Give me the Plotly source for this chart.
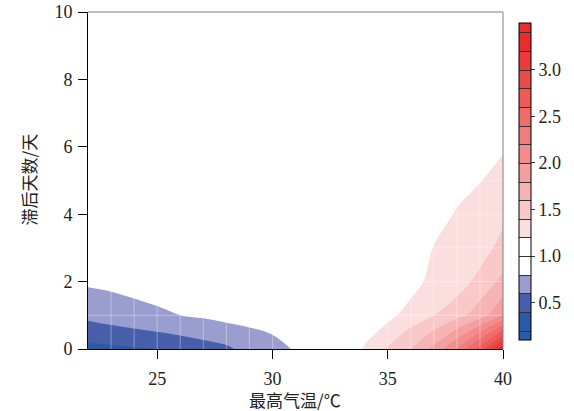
import plotly.graph_objects as go

# Maximum temperature (°C) grid and lag (days) grid
temps = [22, 23, 24, 25, 26, 27, 28, 29, 30, 31, 32, 33, 34, 35, 36, 37, 38, 39, 40]
lags = [0, 1, 2, 3, 4, 5, 6, 7, 8, 9, 10]

# Relative risk, one list per temperature (values for lag 0..10)
rr_by_temp = {
    22: [0.341, 0.649, 0.831, 0.92, 0.96, 0.98, 1.0, 1.0, 1.0, 1.0, 1.0],
    23: [0.356, 0.699, 0.843, 0.93, 0.97, 0.99, 1.0, 1.0, 1.0, 1.0, 1.0],
    24: [0.377, 0.743, 0.857, 0.94, 0.97, 0.99, 1.0, 1.0, 1.0, 1.0, 1.0],
    25: [0.400, 0.792, 0.821, 0.90, 0.96, 0.99, 1.0, 1.0, 1.0, 1.0, 1.0],
    26: [0.467, 0.799, 0.900, 0.95, 0.98, 1.0, 1.0, 1.0, 1.0, 1.0, 1.0],
    27: [0.516, 0.828, 0.920, 0.96, 0.98, 1.0, 1.0, 1.0, 1.0, 1.0, 1.0],
    28: [0.564, 0.867, 0.930, 0.97, 0.99, 1.0, 1.0, 1.0, 1.0, 1.0, 1.0],
    29: [0.670, 0.873, 0.940, 0.97, 0.99, 1.0, 1.0, 1.0, 1.0, 1.0, 1.0],
    30: [0.760, 0.855, 0.940, 0.97, 0.99, 1.0, 1.0, 1.0, 1.0, 1.0, 1.0],
    31: [0.810, 0.900, 0.950, 0.98, 1.0, 1.0, 1.0, 1.0, 1.0, 1.0, 1.0],
    32: [0.920, 0.960, 0.980, 1.0, 1.0, 1.0, 1.0, 1.0, 1.0, 1.0, 1.0],
    33: [1.050, 1.020, 1.0, 1.0, 1.0, 1.0, 1.0, 1.0, 1.0, 1.0, 1.0],
    34: [1.220, 1.070, 1.030, 1.01, 1.0, 1.0, 1.0, 1.0, 1.0, 1.0, 1.0],
    35: [1.420, 1.140, 1.080, 1.05, 1.02, 1.01, 1.0, 1.0, 1.0, 1.0, 1.0],
    36: [1.600, 1.285, 1.114, 1.105, 1.07, 1.04, 1.02, 1.0, 1.0, 1.0, 1.0],
    37: [1.850, 1.400, 1.270, 1.205, 1.15, 1.10, 1.05, 1.02, 1.0, 1.0, 1.0],
    38: [2.210, 1.530, 1.290, 1.250, 1.21, 1.16, 1.10, 1.05, 1.02, 1.0, 1.0],
    39: [2.700, 1.700, 1.470, 1.300, 1.24, 1.195, 1.13, 1.07, 1.03, 1.01, 1.0],
    40: [3.350, 2.000, 1.650, 1.480, 1.34, 1.27, 1.18, 1.10, 1.05, 1.02, 1.0],
}

# Contour levels and band colours (0.2 .. 3.4 in steps of 0.2)
level_start, level_end, level_step = 0.2, 3.4, 0.2
band_colors = [
    "#2b5aa6", "#475fab", "#9a9ecf", "#ffffff", "#ffffff",
    "#fbdfdf", "#f9c8c8", "#f7b4b4", "#f5a0a0", "#f38d8d",
    "#f27c7c", "#f06b6b", "#ee5a5a", "#ec4a4a", "#eb3b3b", "#e92c2c",
]
cbar_ticks = [0.5, 1.0, 1.5, 2.0, 2.5, 3.0]
x_ticks = [25, 30, 35, 40]
y_ticks = [0, 2, 4, 6, 8, 10]

# z matrix: rows = lags, columns = temps
z = [[rr_by_temp[t][i] for t in temps] for i in range(len(lags))]

# Build a colorscale so that every band's centre maps exactly to its colour
span = level_end + level_step / 2 - (level_start - level_step / 2)
lo = level_start - level_step / 2
cs = [[0.0, band_colors[0]]]
for k, col in enumerate(band_colors):
    centre = level_start + level_step * k + level_step / 2
    cs.append([(centre - lo) / span, col])
cs.append([1.0, band_colors[-1]])

contours = dict(start=level_start, end=level_end, size=level_step, coloring="fill")

serif = "Liberation Serif, Times New Roman, serif"
cjk = "Noto Sans CJK SC, sans-serif"

fig = go.Figure()
fig.add_trace(go.Contour(
    x=temps, y=lags, z=z, colorscale=cs, showscale=False,
    contours=dict(contours, showlines=False), line=dict(width=0),
    hoverinfo="skip",
))
# Same data on hidden axes: only used to draw the colour bar with band separators
fig.add_trace(go.Contour(
    x=temps, y=lags, z=z, colorscale=cs, showscale=True,
    xaxis="x2", yaxis="y2",
    contours=dict(contours, showlines=True), line=dict(width=1, color="#333333"),
    hoverinfo="skip",
    colorbar=dict(
        x=1.0386, xanchor="left", xpad=0, y=0.497, yanchor="middle",
        len=0.94, lenmode="fraction", thickness=12, ypad=0,
        outlinecolor="#000000", outlinewidth=1,
        tickvals=cbar_ticks, ticktext=[f"{v:.1f}" for v in cbar_ticks],
        ticks="outside", ticklen=4, tickcolor="#333333",
        tickfont=dict(family=serif, size=18, color="#222222"),
    ),
))

# faint seams at grid cells (as in the original filled contour rendering)
shapes = []
for t in temps[1:-1]:
    shapes.append(dict(type="line", xref="x", yref="y", x0=t, x1=t, y0=lags[0], y1=lags[-1],
                       line=dict(color="rgba(255,255,255,0.35)", width=1), layer="above"))
for g in lags[1:-1]:
    shapes.append(dict(type="line", xref="x", yref="y", x0=temps[0], x1=temps[-1], y0=g, y1=g,
                       line=dict(color="rgba(255,255,255,0.35)", width=1), layer="above"))
# grey top and right frame lines
shapes.append(dict(type="line", xref="paper", yref="paper", x0=0, x1=1, y0=1, y1=1,
                   line=dict(color="#7f7f7f", width=1), layer="above"))
shapes.append(dict(type="line", xref="paper", yref="paper", x0=1, x1=1, y0=0, y1=1,
                   line=dict(color="#7f7f7f", width=1), layer="above"))

fig.update_layout(
    width=574, height=411,
    margin=dict(l=88, r=71, t=12, b=62),
    paper_bgcolor="white", plot_bgcolor="white",
    showlegend=False,
    shapes=shapes,
    xaxis=dict(
        range=[temps[0], temps[-1]], tickvals=x_ticks,
        ticks="outside", ticklen=9, tickcolor="#000000", automargin=False,
        ticklabelstandoff=4,
        showline=True, linecolor="#000000", linewidth=1, showgrid=False, zeroline=False,
        tickfont=dict(family=serif, size=18, color="#222222"),
    ),
    yaxis=dict(
        range=[lags[0], lags[-1]], tickvals=y_ticks,
        ticks="outside", ticklen=9, tickcolor="#000000", automargin=False,
        ticklabelstandoff=2,
        showline=True, linecolor="#000000", linewidth=1, showgrid=False, zeroline=False,
        tickfont=dict(family=serif, size=18, color="#222222"),
    ),
    xaxis2=dict(overlaying="x", visible=False, range=[1000, 1001]),
    yaxis2=dict(overlaying="y", visible=False, range=[1000, 1001]),
    annotations=[
        dict(text="最高气温/℃", xref="paper", yref="paper", x=0.4988, y=-0.151,
             xanchor="center", yanchor="middle", showarrow=False,
             font=dict(family=cjk, size=17, color="#222222")),
        dict(text="滞后天数/天", xref="paper", yref="paper", x=-0.1446, y=0.503,
             xanchor="center", yanchor="middle", showarrow=False, textangle=-90,
             font=dict(family=cjk, size=17, color="#222222")),
    ],
)

fig.write_html("out.html", config={"displayModeBar": False},
               post_script="document.body.style.margin='0px';")
